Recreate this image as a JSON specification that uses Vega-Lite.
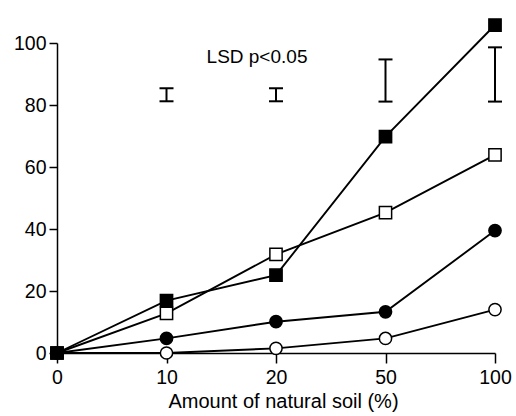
{
  "$schema": "https://vega.github.io/schema/vega-lite/v6.json",
  "autosize": "none",
  "padding": {"left": 57, "top": 43, "right": 21, "bottom": 63},
  "width": 438,
  "height": 310,
  "background": "white",
  "config": {
    "view": {"stroke": null},
    "font": "Liberation Sans",
    "axis": {"grid": false, "domainColor": "black", "tickColor": "black", "labelColor": "black", "titleColor": "black", "domainWidth": 1.5, "tickWidth": 1.5, "labelFont": "Liberation Sans", "titleFont": "Liberation Sans", "labelFontSize": 19.5, "titleFontSize": 20, "titleFontWeight": "normal"}
  },
  "datasets": {
    "series": [
      {"soil": 0, "value": 0, "series": "oc"},
      {"soil": 10, "value": 0, "series": "oc"},
      {"soil": 20, "value": 1.5, "series": "oc"},
      {"soil": 50, "value": 4.7, "series": "oc"},
      {"soil": 100, "value": 14, "series": "oc"},
      {"soil": 0, "value": 0, "series": "fc"},
      {"soil": 10, "value": 4.7, "series": "fc"},
      {"soil": 20, "value": 10.1, "series": "fc"},
      {"soil": 50, "value": 13.3, "series": "fc"},
      {"soil": 100, "value": 39.5, "series": "fc"},
      {"soil": 0, "value": 0, "series": "os"},
      {"soil": 10, "value": 12.8, "series": "os"},
      {"soil": 20, "value": 31.8, "series": "os"},
      {"soil": 50, "value": 45.3, "series": "os"},
      {"soil": 100, "value": 63.9, "series": "os"},
      {"soil": 0, "value": 0, "series": "fs"},
      {"soil": 10, "value": 16.9, "series": "fs"},
      {"soil": 20, "value": 25.1, "series": "fs"},
      {"soil": 50, "value": 69.8, "series": "fs"},
      {"soil": 100, "value": 105.8, "series": "fs"}
    ],
    "lsd": [
      {"soil": 10, "lo": 81.2, "hi": 85.4},
      {"soil": 20, "lo": 81.2, "hi": 85.4},
      {"soil": 50, "lo": 81.1, "hi": 94.7},
      {"soil": 100, "lo": 81.1, "hi": 98.6}
    ],
    "label": [
      {"soil": 20, "value": 95.5, "text": "LSD p<0.05"}
    ]
  },
  "encoding": {
    "x": {
      "field": "soil", "type": "ordinal",
      "scale": {"type": "point", "padding": 0},
      "axis": {"labelAngle": 0, "tickSize": 10, "labelPadding": 5, "title": "Amount of natural soil (%)", "titlePadding": 5, "titleX": 226}
    }
  },
  "layer": [
    {
      "data": {"name": "series"},
      "mark": {"type": "line", "color": "black", "strokeWidth": 1.9},
      "encoding": {
        "y": {
          "field": "value", "type": "quantitative",
          "scale": {"domain": [0, 100], "nice": false},
          "axis": {
            "title": null,
            "values": [0, 10, 20, 30, 40, 50, 60, 70, 80, 90, 100],
            "labelExpr": "datum.value % 20 === 0 ? datum.label : ''",
            "tickSize": {"condition": {"test": "datum.value % 20 !== 0", "value": 4}, "value": 8},
            "labelPadding": 3
          }
        },
        "detail": {"field": "series"}
      }
    },
    {
      "data": {"name": "series"},
      "mark": {"type": "point", "filled": false, "stroke": "black", "strokeWidth": 1.5, "opacity": 1},
      "encoding": {
        "y": {"field": "value", "type": "quantitative"},
        "shape": {"field": "series", "type": "nominal", "scale": {"domain": ["fs", "os", "fc", "oc"], "range": ["square", "square", "circle", "circle"]}, "legend": null},
        "fill": {"field": "series", "type": "nominal", "scale": {"domain": ["fs", "os", "fc", "oc"], "range": ["black", "white", "black", "white"]}, "legend": null},
        "size": {"field": "series", "type": "nominal", "scale": {"domain": ["fs", "os", "fc", "oc"], "range": [150, 150, 130, 130]}, "legend": null}
      }
    },
    {
      "data": {"name": "lsd"},
      "mark": {"type": "rule", "color": "black", "strokeWidth": 2},
      "encoding": {
        "y": {"field": "lo", "type": "quantitative"},
        "y2": {"field": "hi"}
      }
    },
    {
      "data": {"name": "lsd"},
      "mark": {"type": "tick", "color": "black", "size": 14, "thickness": 2, "opacity": 1},
      "encoding": {"y": {"field": "lo", "type": "quantitative"}}
    },
    {
      "data": {"name": "lsd"},
      "mark": {"type": "tick", "color": "black", "size": 14, "thickness": 2, "opacity": 1},
      "encoding": {"y": {"field": "hi", "type": "quantitative"}}
    },
    {
      "data": {"name": "label"},
      "mark": {"type": "text", "fontSize": 19, "align": "center", "baseline": "middle", "dx": -19, "color": "black", "font": "Liberation Sans"},
      "encoding": {
        "y": {"field": "value", "type": "quantitative"},
        "text": {"field": "text"}
      }
    }
  ]
}
